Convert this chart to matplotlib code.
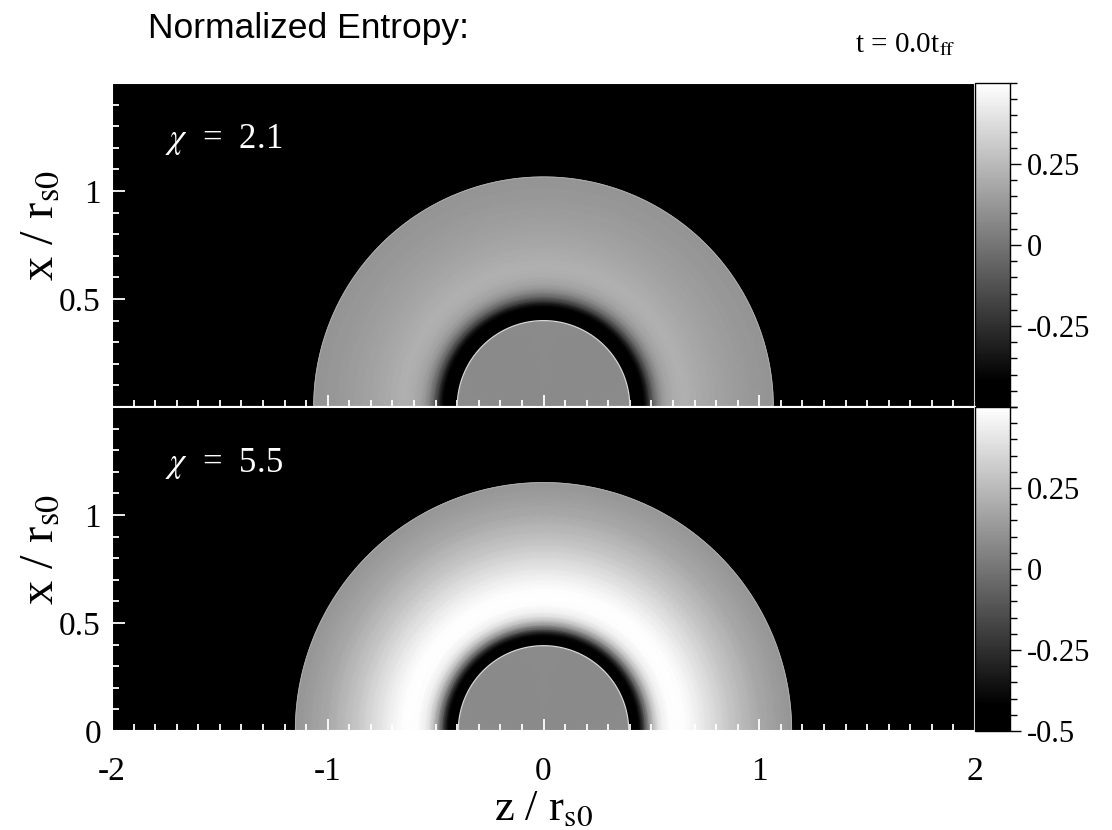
import numpy as np
import matplotlib
matplotlib.use("Agg")
import matplotlib.pyplot as plt
from matplotlib.colors import LinearSegmentedColormap
from matplotlib.ticker import MultipleLocator, FixedLocator, FormatStrFormatter

plt.rcParams['font.family'] = ['Liberation Serif', 'DejaVu Serif']
plt.rcParams['mathtext.fontset'] = 'stix'
plt.rcParams['axes.unicode_minus'] = False

# --- radial entropy profiles (r in units of r_s0) ---
chi_labels = ["$\\chi$  =  2.1", "$\\chi$  =  5.5"]

r_chi21 = [0.0, 0.20, 0.40, 0.40, 0.455, 0.47, 0.49, 0.51, 0.53, 0.55, 0.57,
           0.60, 0.64, 0.68, 0.74, 0.80, 0.88, 0.96, 1.065]
s_chi21 = [0.08, 0.08, 0.08, -0.5, -0.5, -0.38, -0.20, -0.05, 0.06, 0.13, 0.17,
           0.20, 0.215, 0.21, 0.19, 0.17, 0.15, 0.13, 0.115]

r_chi55 = [0.0, 0.20, 0.395, 0.395, 0.435, 0.45, 0.47, 0.49, 0.51, 0.53, 0.55,
           0.58, 0.62, 0.66, 0.70, 0.75, 0.80, 0.86, 0.92, 1.00, 1.08, 1.15]
s_chi55 = [0.08, 0.08, 0.08, -0.5, -0.5, -0.35, -0.10, 0.12, 0.28, 0.39, 0.45,
           0.49, 0.50, 0.49, 0.46, 0.41, 0.36, 0.30, 0.25, 0.19, 0.15, 0.12]

inner_radius = [0.40, 0.395]

cbar_ticks = [[-0.25, 0.0, 0.25], [-0.5, -0.25, 0.0, 0.25]]
y_ticks = [[0.5, 1.0], [0.0, 0.5, 1.0]]
x_ticks = [-2, -1, 0, 1, 2]

profiles = [(r_chi21, s_chi21), (r_chi55, s_chi55)]

cmap = LinearSegmentedColormap.from_list(
    "entropy_gray", [(0.0, "black"), (0.08, "black"), (1.0, "white")])

fig = plt.figure(figsize=(11.12, 8.3), dpi=100)

left, width = 112 / 1112, 863 / 1112
cb_w = 35 / 1112
panel_h = 324 / 830
bottoms = [1 - 407 / 830, 1 - 731 / 830]

theta = np.linspace(0, np.pi, 721)

for i, (r, s) in enumerate(profiles):
    ax = fig.add_axes([left, bottoms[i], width, panel_h])
    cax = fig.add_axes([left + width, bottoms[i], cb_w, panel_h])
    ax.set_facecolor("black")

    R, T = np.meshgrid(np.array(r), theta)
    S = np.tile(np.array(s), (len(theta), 1))
    mesh = ax.pcolormesh(R * np.cos(T), R * np.sin(T), S, cmap=cmap,
                         vmin=-0.5, vmax=0.5, shading="gouraud")

    # thin bright rim around the inner cloud and the outer shell edge
    ax.plot(inner_radius[i] * np.cos(theta), inner_radius[i] * np.sin(theta),
            color="#d8d8d8", lw=0.9)
    ax.plot(r[-1] * np.cos(theta), r[-1] * np.sin(theta),
            color="#bbbbbb", lw=0.6, alpha=0.7)

    ax.set_xlim(-2, 2)
    ax.set_ylim(0, 1.5)

    ax.xaxis.set_major_locator(FixedLocator(x_ticks))
    ax.xaxis.set_minor_locator(MultipleLocator(0.1))
    ax.yaxis.set_major_locator(FixedLocator(y_ticks[i]))
    ax.yaxis.set_minor_locator(MultipleLocator(0.1))
    ax.xaxis.set_major_formatter(FormatStrFormatter("%g"))
    ax.yaxis.set_major_formatter(FormatStrFormatter("%g"))
    ax.tick_params(which="both", direction="in", color="white", width=1.3,
                   top=False, right=False, labelsize=24)
    ax.tick_params(which="major", length=9, pad=8)
    ax.tick_params(which="minor", length=5)
    ax.tick_params(axis="x", pad=18)
    for sp in ax.spines.values():
        sp.set_color("white")
        sp.set_linewidth(1.5)
    if i == 0:
        ax.tick_params(axis="x", labelbottom=False)
    else:
        ax.set_xlabel("z / r$_{\\mathrm{s0}}$", fontsize=32, labelpad=2)

    ax.set_ylabel("x / r$_{\\mathrm{s0}}$", fontsize=35)
    ax.yaxis.set_label_coords(-0.058, 0.56)

    ax.text(0.061, 0.80, chi_labels[i], transform=ax.transAxes, color="white",
            fontsize=25, va="baseline", ha="left")

    cb = fig.colorbar(mesh, cax=cax)
    cb.set_ticks(cbar_ticks[i])
    cb.ax.yaxis.set_major_formatter(FormatStrFormatter("%g"))
    cb.ax.yaxis.set_minor_locator(MultipleLocator(0.05))
    cb.ax.tick_params(which="both", direction="out", color="black", width=1.0,
                      labelsize=22)
    cb.ax.tick_params(which="major", length=8, pad=4)
    cb.ax.tick_params(which="minor", length=5)
    cb.outline.set_linewidth(1.0)

fig.text(148 / 1112, 1 - 38 / 830, "Normalized Entropy:", fontsize=25.5,
         family=["Liberation Sans", "DejaVu Sans"], va="baseline", ha="left")
fig.text(855 / 1112, 1 - 52 / 830, "t = 0.0t$_{\\mathrm{ff}}$", fontsize=21,
         va="baseline", ha="left")

fig.savefig("out.png", dpi=100)
